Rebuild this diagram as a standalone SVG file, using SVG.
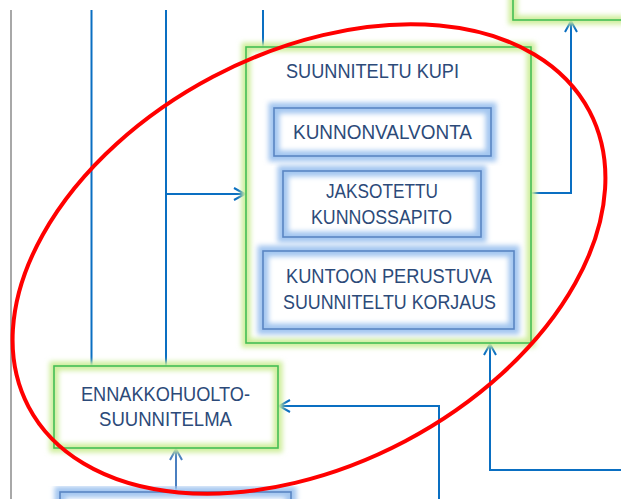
<svg xmlns="http://www.w3.org/2000/svg" width="621" height="499" viewBox="0 0 621 499">
  <defs>
    <filter id="soft" x="-20%" y="-20%" width="140%" height="140%">
      <feGaussianBlur stdDeviation="2.4"/>
    </filter>
    <marker id="arrow" viewBox="0 0 14 14" refX="12.5" refY="7" markerWidth="14" markerHeight="14" markerUnits="userSpaceOnUse" orient="auto">
      <path d="M1.5,1 L12.5,7 L1.5,13" fill="none" stroke="#0a6fc2" stroke-width="2"/>
    </marker>
    <marker id="arrow2" viewBox="0 0 14 14" refX="12.5" refY="7" markerWidth="14" markerHeight="14" markerUnits="userSpaceOnUse" orient="auto">
      <path d="M1.5,1 L12.5,7 L1.5,13" fill="none" stroke="#4a7fc0" stroke-width="2"/>
    </marker>
  </defs>
  <style>
    .bg { fill: #ffffff; }
    .gglow { fill: none; stroke: #cfee9c; stroke-width: 9; filter: url(#soft); }
    .gline { fill: none; stroke: #45bf55; stroke-width: 1.6; }
    .bglow { fill: none; stroke: #a3c6f0; stroke-width: 11; filter: url(#soft); }
    .bline { fill: none; stroke: #5a86c4; stroke-width: 1.6; }
    .conn { fill: none; stroke: #0a6fc2; stroke-width: 2; }
    .label { font-family: "Liberation Sans", Arial, sans-serif; font-size: 20px; fill: #2c4a79; text-anchor: middle; }
  </style>

  <rect width="621" height="499" fill="#ffffff"/>

  <!-- page margin rule -->
  <line x1="11" y1="10" x2="11" y2="499" stroke="#a8a8a8" stroke-width="2"/>

  <!-- connectors -->
  <g id="connectors">
    <line class="conn" x1="91.5" y1="10" x2="91.5" y2="366"/>
    <line class="conn" x1="166" y1="10" x2="166" y2="366"/>
    <line class="conn" x1="263" y1="10" x2="263" y2="47"/>
    <path class="conn" d="M166,194 H245" marker-end="url(#arrow)"/>
    <path class="conn" d="M531,193 H571 V21" marker-end="url(#arrow)"/>
    <path class="conn" d="M621,470 H490 V344" marker-end="url(#arrow)"/>
    <path class="conn" d="M439,499 V406 H279" marker-end="url(#arrow)"/>
    <path d="M176,492 V449" fill="none" stroke="#4a7fc0" stroke-width="2" marker-end="url(#arrow2)"/>
  </g>

  <!-- partly visible box, top right -->
  <g id="node-top-right">
    <rect class="bg" x="513" y="-30" width="140" height="50"/>
    <rect class="gglow" x="513" y="-30" width="140" height="50"/>
    <rect class="gline" x="513" y="-30" width="140" height="50"/>
  </g>

  <!-- planned maintenance container -->
  <g id="node-kupi">
    <rect class="bg" x="246" y="47" width="285" height="296"/>
    <rect class="gglow" x="246" y="47" width="285" height="296"/>
    <rect class="gline" x="246" y="47" width="285" height="296"/>
    <text class="label" x="372.5" y="78" textLength="173" lengthAdjust="spacingAndGlyphs">SUUNNITELTU KUPI</text>
  </g>

  <g id="node-kunnonvalvonta">
    <rect class="bg" x="274" y="108" width="217" height="48"/>
    <rect class="bglow" x="274" y="108" width="217" height="48"/>
    <rect class="bline" x="274" y="108" width="217" height="48"/>
    <text class="label" x="382.5" y="139" textLength="179" lengthAdjust="spacingAndGlyphs">KUNNONVALVONTA</text>
  </g>

  <g id="node-jaksotettu">
    <rect class="bg" x="283" y="171" width="198" height="66"/>
    <rect class="bglow" x="283" y="171" width="198" height="66"/>
    <rect class="bline" x="283" y="171" width="198" height="66"/>
    <text class="label" x="382" y="198" textLength="112" lengthAdjust="spacingAndGlyphs">JAKSOTETTU</text>
    <text class="label" x="381.5" y="224" textLength="141" lengthAdjust="spacingAndGlyphs">KUNNOSSAPITO</text>
  </g>

  <g id="node-kuntoon">
    <rect class="bg" x="263" y="251" width="251" height="78"/>
    <rect class="bglow" x="263" y="251" width="251" height="78"/>
    <rect class="bline" x="263" y="251" width="251" height="78"/>
    <text class="label" x="389" y="283" textLength="206" lengthAdjust="spacingAndGlyphs">KUNTOON PERUSTUVA</text>
    <text class="label" x="389.5" y="309" textLength="213" lengthAdjust="spacingAndGlyphs">SUUNNITELTU KORJAUS</text>
  </g>

  <g id="node-ennakkohuolto">
    <rect class="bg" x="54" y="366" width="224" height="82"/>
    <rect class="gglow" x="54" y="366" width="224" height="82"/>
    <rect class="gline" x="54" y="366" width="224" height="82"/>
    <text class="label" x="165.5" y="401" textLength="169" lengthAdjust="spacingAndGlyphs">ENNAKKOHUOLTO-</text>
    <text class="label" x="165.5" y="426" textLength="133" lengthAdjust="spacingAndGlyphs">SUUNNITELMA</text>
  </g>

  <!-- partly visible box, bottom -->
  <g id="node-bottom">
    <rect class="bg" x="60" y="492" width="231" height="30"/>
    <rect class="bglow" x="60" y="492" width="231" height="30"/>
    <rect class="bline" x="60" y="492" width="231" height="30"/>
  </g>

  <!-- highlight ring -->
  <ellipse cx="309" cy="259" rx="317" ry="206" transform="rotate(-27.8 309 259)" fill="none" stroke="#ff0000" stroke-width="4"/>
</svg>
